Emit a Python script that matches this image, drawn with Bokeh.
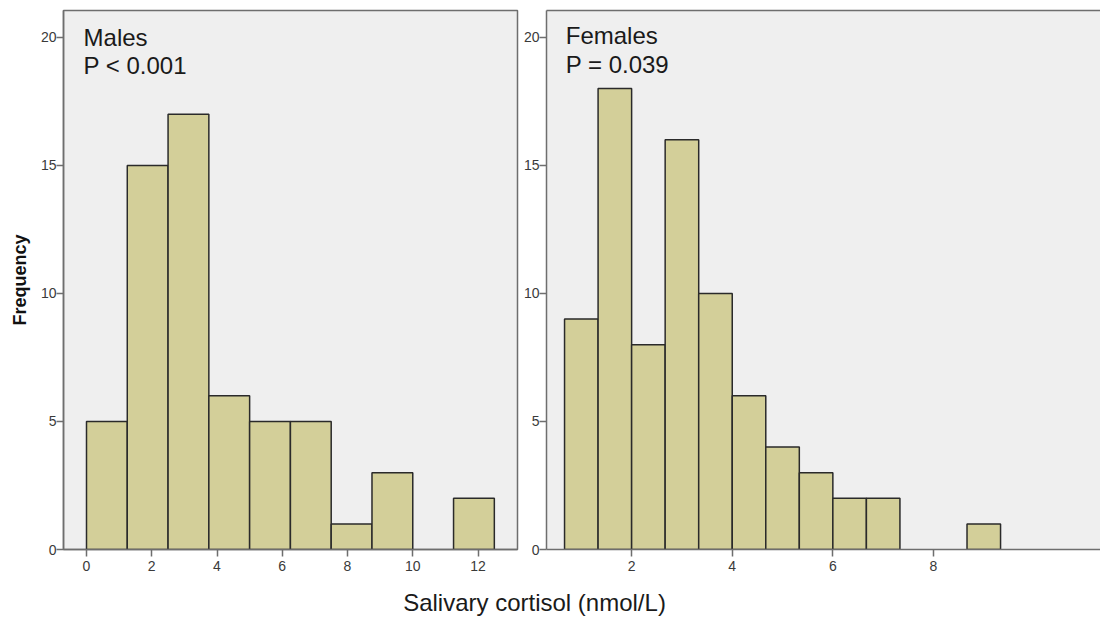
from bokeh.plotting import figure
from bokeh.models import Range1d, FixedTicker, LinearAxis, Label
from bokeh.layouts import row, column
from bokeh.embed import file_html
from bokeh.resources import INLINE
from bokeh.core.properties import value

# Histogram data: bin edges and counts per sex
male_start = 0.0
male_width = 1.25
male_counts = [5, 15, 17, 6, 5, 5, 1, 3, 0, 2]
male_ticks = [0, 2, 4, 6, 8, 10, 12]

female_start = 2.0 / 3.0
female_width = 2.0 / 3.0
female_counts = [9, 18, 8, 16, 10, 6, 4, 3, 2, 2, 0, 0, 1]
female_ticks = [2, 4, 6, 8]

freq_ticks = [0, 5, 10, 15, 20]

panel_titles = [["Males", "P < 0.001"], ["Females", "P = 0.039"]]
x_title = "Salivary cortisol (nmol/L)"
y_title = "Frequency"

FONT = "Liberation Sans"
BAR_FILL = "#d3cf99"
BAR_LINE = "#2a2a2a"
PANEL_BG = "#efefef"
FRAME = "#6e6e6e"
TICK_TXT = "#3a3a3a"


def style_axis(ax, ticks, standoff):
    ax.ticker = FixedTicker(ticks=ticks)
    ax.axis_line_color = FRAME
    ax.axis_line_width = 1.5
    ax.major_tick_line_color = FRAME
    ax.major_tick_line_width = 1.5
    ax.major_tick_in = 0
    ax.major_tick_out = 7
    ax.minor_tick_line_color = None
    ax.major_label_text_font = FONT
    ax.major_label_text_font_size = "14px"
    ax.major_label_text_color = TICK_TXT
    ax.major_label_standoff = standoff


def histogram(start, width, counts, xr, yr, w, h, borders, xticks, titles, tpos):
    p = figure(width=w, height=h, output_backend="svg", toolbar_location=None,
               x_range=Range1d(*xr), y_range=Range1d(*yr),
               min_border_left=borders[0], min_border_right=borders[1],
               min_border_top=borders[2], min_border_bottom=borders[3])
    p.background_fill_color = PANEL_BG
    p.border_fill_color = "white"
    p.xgrid.grid_line_color = None
    p.ygrid.grid_line_color = None
    style_axis(p.xaxis[0], xticks, 4)
    style_axis(p.yaxis[0], freq_ticks, 0)

    lefts = [start + i * width for i, c in enumerate(counts) if c > 0]
    rights = [x + width for x in lefts]
    tops = [c for c in counts if c > 0]
    p.quad(left=lefts, right=rights, top=tops, bottom=0,
           fill_color=BAR_FILL, line_color=BAR_LINE, line_width=1.5)

    for k, txt in enumerate(titles):
        p.add_layout(Label(x=tpos[0], y=tpos[1][k], text=txt,
                           text_font=FONT, text_font_size="24px",
                           text_color="#1a1a1a", text_baseline="middle"))
    return p


p1 = histogram(male_start, male_width, male_counts,
               (-0.705, 13.21), (0, 21.05), 520, 580, (63, 3, 9, 28),
               male_ticks, panel_titles[0], (-0.09, [20.01, 18.90]))
p1.outline_line_color = FRAME
p1.outline_line_width = 1.5
p1.yaxis[0].axis_label = y_title
p1.yaxis[0].axis_label_text_font = FONT
p1.yaxis[0].axis_label_text_font_size = "18px"
p1.yaxis[0].axis_label_text_font_style = "bold"
p1.yaxis[0].axis_label_text_color = "#111111"
p1.yaxis[0].axis_label_standoff = 8

p2 = histogram(female_start, female_width, female_counts,
               (0.308, 11.32), (0, 21.05), 580, 580, (25, 0, 10, 31),
               female_ticks, panel_titles[1], (0.69, [20.06, 18.93]))
p2.outline_line_color = None
top_edge = LinearAxis(ticker=FixedTicker(ticks=[]), major_label_text_font_size="0px",
                      axis_line_color=FRAME, axis_line_width=1.5,
                      major_tick_out=0, minor_tick_out=0, major_label_standoff=0)
p2.add_layout(top_edge, "above")

# shared x-axis caption underneath both panels
cap = figure(width=1100, height=38, output_backend="svg", toolbar_location=None,
             x_range=Range1d(0, 1100), y_range=Range1d(0, 38),
             min_border_left=0, min_border_right=0, min_border_top=0, min_border_bottom=0)
cap.axis.visible = False
cap.grid.visible = False
cap.outline_line_color = None
cap.background_fill_color = "white"
cap.text(x=[534], y=[16], text=[x_title], text_font=value(FONT), text_font_size="24px",
         text_color="#1a1a1a", text_align="center", text_baseline="middle")

layout = column(row(p1, p2), cap)
open("out.html", "w").write(file_html(layout, INLINE))
